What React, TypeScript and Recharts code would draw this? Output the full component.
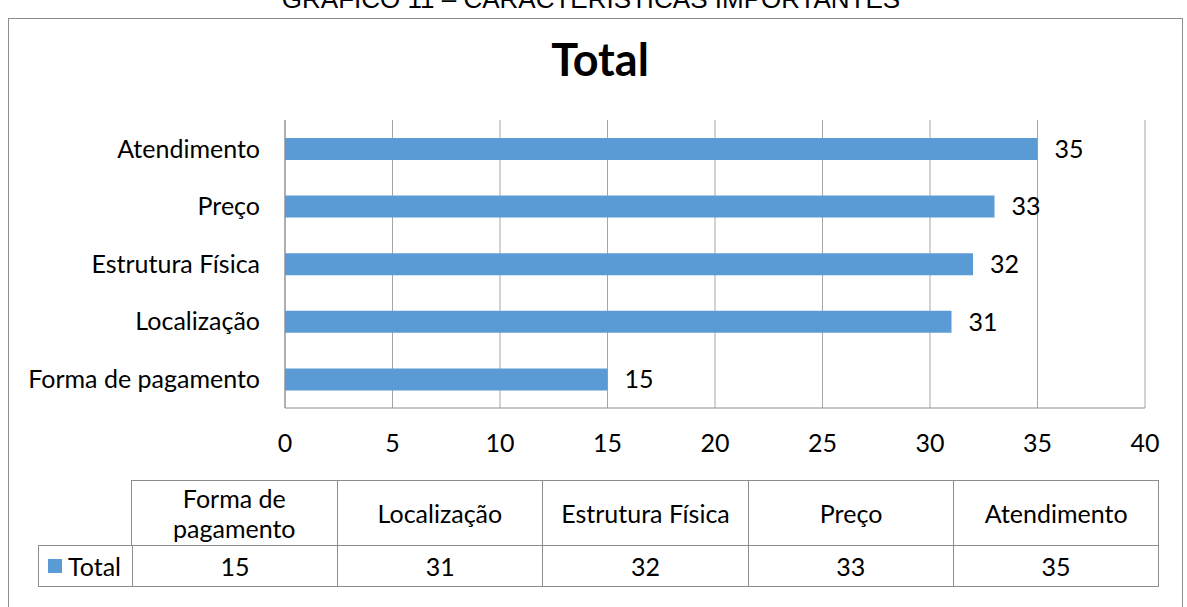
import React from "react";
import { BarChart, Bar, XAxis, YAxis, CartesianGrid, LabelList } from "recharts";

const categories = ["Forma de pagamento", "Localização", "Estrutura Física", "Preço", "Atendimento"];
const totals = [15, 31, 32, 33, 35];
const xTicks = [0, 5, 10, 15, 20, 25, 30, 35, 40];
const seriesName = "Total";
const pageTitle = "GRÁFICO 11 – CARACTERÍSTICAS IMPORTANTES";

const data = categories.map((name, i) => ({ name, total: totals[i] }));

const FONT = "Lato, 'Open Sans', sans-serif";
const BLUE = "#5B9BD5";
const LINE = "#8c8c8c";

const App = () => {
    const fs = 25;
    const colW = (1159 - 131) / categories.length;

    return (
        <div style={{ position: "absolute", left: 0, top: 0, width: 1187, height: 607, overflow: "hidden", background: "#fff", fontFamily: FONT }}>
            {/* page caption, cut at the top like the scan */}
            <div style={{ position: "absolute", left: 0, width: 1182, top: -13, textAlign: "center", fontFamily: "'Liberation Sans', Arial, sans-serif", fontSize: 26, lineHeight: "24px", color: "#000" }}>
                {pageTitle}
            </div>
            {/* chart frame */}
            <div style={{ position: "absolute", left: 8, top: 18, width: 1173, height: 600, border: `1px solid ${LINE}` }} />
            <div style={{ position: "absolute", left: 0, width: 1200, top: 32, textAlign: "center", fontSize: 45, fontWeight: 700, lineHeight: "54px" }}>
                {seriesName}
            </div>

            <div style={{ position: "absolute", left: 0, top: 0 }}>
                <BarChart
                    width={1187}
                    height={607}
                    data={data}
                    layout="vertical"
                    margin={{ top: 120, right: 42, left: 25, bottom: 139 }}
                >
                    <CartesianGrid horizontal={false} stroke="#a6a6a6" />
                    <XAxis
                        type="number"
                        domain={[0, 40]}
                        ticks={xTicks}
                        height={60}
                        axisLine={{ stroke: LINE }}
                        tickLine={false}
                        tickSize={0}
                        tickMargin={26}
                        tick={{ fill: "#000", fontSize: fs, fontFamily: FONT }}
                    />
                    <YAxis
                        type="category"
                        dataKey="name"
                        reversed
                        width={260}
                        axisLine={{ stroke: LINE }}
                        tickLine={false}
                        tickSize={0}
                        tickMargin={25}
                        tick={{ fill: "#000", fontSize: fs, fontFamily: FONT }}
                    />
                    <Bar dataKey="total" fill={BLUE} barSize={22} isAnimationActive={false}>
                        <LabelList dataKey="total" position="right" offset={17} fill="#000" fontSize={fs} fontFamily={FONT} />
                    </Bar>
                </BarChart>
            </div>

            {/* data table */}
            <div style={{ position: "absolute", left: 131, top: 480, width: 1159 - 131, height: 65, display: "flex", fontSize: fs }}>
                {categories.map((c, i) => (
                    <div key={c} style={{ width: colW, height: 65, boxSizing: "border-box", borderTop: `1px solid ${LINE}`, borderLeft: `1px solid ${LINE}`, borderRight: i === categories.length - 1 ? `1px solid ${LINE}` : "none", display: "flex", alignItems: "center", justifyContent: "center", textAlign: "center", padding: "0 12px", lineHeight: "30px" }}>
                        {c}
                    </div>
                ))}
            </div>
            <div style={{ position: "absolute", left: 38, top: 545, width: 1159 - 38, height: 42, display: "flex", fontSize: fs, boxSizing: "border-box", border: `1px solid ${LINE}` }}>
                <div style={{ width: 131 - 38, display: "flex", alignItems: "center", paddingLeft: 9, boxSizing: "border-box" }}>
                    <span style={{ display: "inline-block", width: 14, height: 14, background: BLUE, marginRight: 6 }} />
                    {seriesName}
                </div>
                {totals.map((v, i) => (
                    <div key={i} style={{ width: colW, boxSizing: "border-box", borderLeft: `1px solid ${LINE}`, display: "flex", alignItems: "center", justifyContent: "center" }}>
                        {v}
                    </div>
                ))}
            </div>
        </div>
    );
};

export default App;
